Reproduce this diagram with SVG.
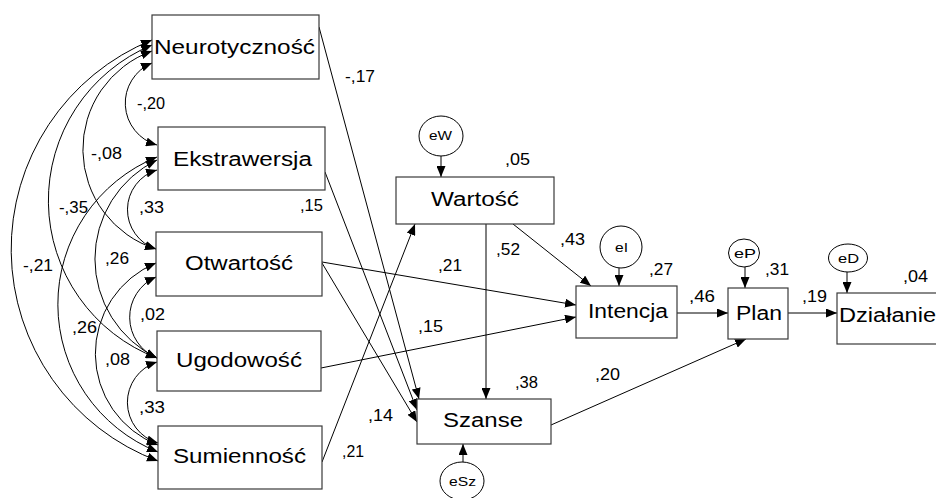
<svg xmlns="http://www.w3.org/2000/svg" width="936" height="498" viewBox="0 0 936 498">
<defs>
<marker id="ah" viewBox="0 0 11 9" refX="11" refY="4.5" markerWidth="11" markerHeight="9" markerUnits="userSpaceOnUse" orient="auto-start-reverse">
<path d="M0,0 L11,4.5 L0,9 z" fill="#000"/>
</marker>
</defs>
<style>
.box{fill:#fff;stroke:#3a3a3a;stroke-width:1.2}
.err{fill:#fff;stroke:#000;stroke-width:1}
.lbl{font-family:"Liberation Sans",Arial,sans-serif;font-size:20px;fill:#000}
.num{font-family:"Liberation Sans",Arial,sans-serif;font-size:16px;fill:#000}
.el{font-family:"Liberation Sans",Arial,sans-serif;font-size:13px;fill:#000}
.c{fill:none;stroke:#000;stroke-width:1}
.one{marker-end:url(#ah)}
.two{marker-start:url(#ah);marker-end:url(#ah)}
</style>
<rect width="936" height="498" fill="#fff"/>
<g id="connectors">
<path class="c two" d="M152,63 A43.5,43.5 0 0 0 157,145"/>
<path class="c two" d="M152,51 A104.5,104.5 0 0 0 156,249"/>
<path class="c two" d="M152,45 A168.5,168.5 0 0 0 157,358"/>
<path class="c two" d="M152,40 A226,226 0 0 0 158,461"/>
<path class="c two" d="M157,170 A41.4,41.4 0 0 0 156,249"/>
<path class="c two" d="M157,160 A110,110 0 0 0 157,358"/>
<path class="c two" d="M157,157 A159,159 0 0 0 158,452"/>
<path class="c two" d="M156,277 A44,44 0 0 0 157,358"/>
<path class="c two" d="M156,263 A98,98 0 0 0 158,445"/>
<path class="c two" d="M157,362 A42.3,42.3 0 0 0 158,443"/>
<line class="c one" x1="319" y1="27" x2="419" y2="399"/>
<line class="c one" x1="325" y1="172" x2="417" y2="410"/>
<line class="c one" x1="322" y1="263" x2="417" y2="422"/>
<line class="c one" x1="322" y1="462" x2="415" y2="224"/>
<line class="c one" x1="322" y1="262" x2="576" y2="305"/>
<line class="c one" x1="321" y1="368" x2="576" y2="317"/>
<line class="c one" x1="486" y1="224" x2="486" y2="399"/>
<line class="c one" x1="513" y1="224" x2="591" y2="286"/>
<line class="c one" x1="441" y1="156" x2="441" y2="177"/>
<line class="c one" x1="619" y1="268" x2="619" y2="286"/>
<line class="c one" x1="745" y1="267" x2="745" y2="288"/>
<line class="c one" x1="847" y1="272" x2="847" y2="293"/>
<line class="c one" x1="463" y1="462" x2="463" y2="444"/>
<line class="c one" x1="677" y1="313" x2="728" y2="313"/>
<line class="c one" x1="788" y1="313" x2="837" y2="313"/>
<line class="c one" x1="551" y1="425" x2="746" y2="339"/>
</g>
<g id="n-neuro"><rect class="box" x="152" y="15" width="167" height="64"/><text class="lbl" x="154" y="54" textLength="161" lengthAdjust="spacingAndGlyphs">Neurotyczność</text></g>
<g id="n-ekstra"><rect class="box" x="158" y="127" width="167" height="63"/><text class="lbl" x="173" y="166" textLength="139" lengthAdjust="spacingAndGlyphs">Ekstrawersja</text></g>
<g id="n-otw"><rect class="box" x="156" y="232" width="166" height="64"/><text class="lbl" x="185" y="270" textLength="108" lengthAdjust="spacingAndGlyphs">Otwartość</text></g>
<g id="n-ugod"><rect class="box" x="157" y="331" width="164" height="60"/><text class="lbl" x="176" y="367" textLength="126" lengthAdjust="spacingAndGlyphs">Ugodowość</text></g>
<g id="n-sum"><rect class="box" x="158" y="426" width="164" height="63"/><text class="lbl" x="173" y="463" textLength="133" lengthAdjust="spacingAndGlyphs">Sumienność</text></g>
<g id="n-wart"><rect class="box" x="396" y="177" width="158" height="47"/><text class="lbl" x="431" y="206" textLength="88" lengthAdjust="spacingAndGlyphs">Wartość</text></g>
<g id="n-szanse"><rect class="box" x="417" y="399" width="134" height="45"/><text class="lbl" x="443" y="427" textLength="80" lengthAdjust="spacingAndGlyphs">Szanse</text></g>
<g id="n-int"><rect class="box" x="576" y="286" width="101" height="52"/><text class="lbl" x="588" y="318" textLength="80" lengthAdjust="spacingAndGlyphs">Intencja</text></g>
<g id="n-plan"><rect class="box" x="728" y="288" width="60" height="51"/><text class="lbl" x="736" y="320" textLength="46" lengthAdjust="spacingAndGlyphs">Plan</text></g>
<g id="n-dzial"><rect class="box" x="837" y="293" width="103" height="51"/><text class="lbl" x="839" y="322" textLength="97" lengthAdjust="spacingAndGlyphs">Działanie</text></g>
<g id="e-w"><ellipse class="err" cx="441" cy="136" rx="22" ry="20"/><text class="el" x="429" y="140" textLength="23" lengthAdjust="spacingAndGlyphs">eW</text></g>
<g id="e-i"><ellipse class="err" cx="621" cy="247" rx="21" ry="21"/><text class="el" x="615" y="252" textLength="13" lengthAdjust="spacingAndGlyphs">eI</text></g>
<g id="e-p"><ellipse class="err" cx="744" cy="253" rx="15.5" ry="14"/><text class="el" x="734" y="258" textLength="22" lengthAdjust="spacingAndGlyphs">eP</text></g>
<g id="e-d"><ellipse class="err" cx="848" cy="258" rx="19.5" ry="14"/><text class="el" x="838" y="263" textLength="21" lengthAdjust="spacingAndGlyphs">eD</text></g>
<g id="e-sz"><ellipse class="err" cx="462" cy="481" rx="22" ry="19"/><text class="el" x="449" y="486" textLength="27" lengthAdjust="spacingAndGlyphs">eSz</text></g>
<g id="labels">
<text class="num" x="345" y="82" textLength="30" lengthAdjust="spacingAndGlyphs">-,17</text>
<text class="num" x="137" y="109" textLength="28" lengthAdjust="spacingAndGlyphs">-,20</text>
<text class="num" x="91" y="159" textLength="31" lengthAdjust="spacingAndGlyphs">-,08</text>
<text class="num" x="59" y="213" textLength="29" lengthAdjust="spacingAndGlyphs">-,35</text>
<text class="num" x="139" y="213" textLength="25" lengthAdjust="spacingAndGlyphs">,33</text>
<text class="num" x="300" y="211" textLength="23" lengthAdjust="spacingAndGlyphs">,15</text>
<text class="num" x="23" y="271" textLength="30" lengthAdjust="spacingAndGlyphs">-,21</text>
<text class="num" x="105" y="264" textLength="24" lengthAdjust="spacingAndGlyphs">,26</text>
<text class="num" x="140" y="320" textLength="25" lengthAdjust="spacingAndGlyphs">,02</text>
<text class="num" x="72" y="333" textLength="25" lengthAdjust="spacingAndGlyphs">,26</text>
<text class="num" x="105" y="365" textLength="25" lengthAdjust="spacingAndGlyphs">,08</text>
<text class="num" x="139" y="413" textLength="26" lengthAdjust="spacingAndGlyphs">,33</text>
<text class="num" x="505" y="165" textLength="25" lengthAdjust="spacingAndGlyphs">,05</text>
<text class="num" x="496" y="255" textLength="24" lengthAdjust="spacingAndGlyphs">,52</text>
<text class="num" x="560" y="245" textLength="25" lengthAdjust="spacingAndGlyphs">,43</text>
<text class="num" x="438" y="271" textLength="24" lengthAdjust="spacingAndGlyphs">,21</text>
<text class="num" x="649" y="275" textLength="24" lengthAdjust="spacingAndGlyphs">,27</text>
<text class="num" x="689" y="302" textLength="26" lengthAdjust="spacingAndGlyphs">,46</text>
<text class="num" x="765" y="275" textLength="24" lengthAdjust="spacingAndGlyphs">,31</text>
<text class="num" x="802" y="302" textLength="25" lengthAdjust="spacingAndGlyphs">,19</text>
<text class="num" x="903" y="282" textLength="25" lengthAdjust="spacingAndGlyphs">,04</text>
<text class="num" x="595" y="380" textLength="25" lengthAdjust="spacingAndGlyphs">,20</text>
<text class="num" x="418" y="332" textLength="25" lengthAdjust="spacingAndGlyphs">,15</text>
<text class="num" x="515" y="388" textLength="23" lengthAdjust="spacingAndGlyphs">,38</text>
<text class="num" x="368" y="421" textLength="25" lengthAdjust="spacingAndGlyphs">,14</text>
<text class="num" x="342" y="457" textLength="22" lengthAdjust="spacingAndGlyphs">,21</text>
</g>
</svg>
